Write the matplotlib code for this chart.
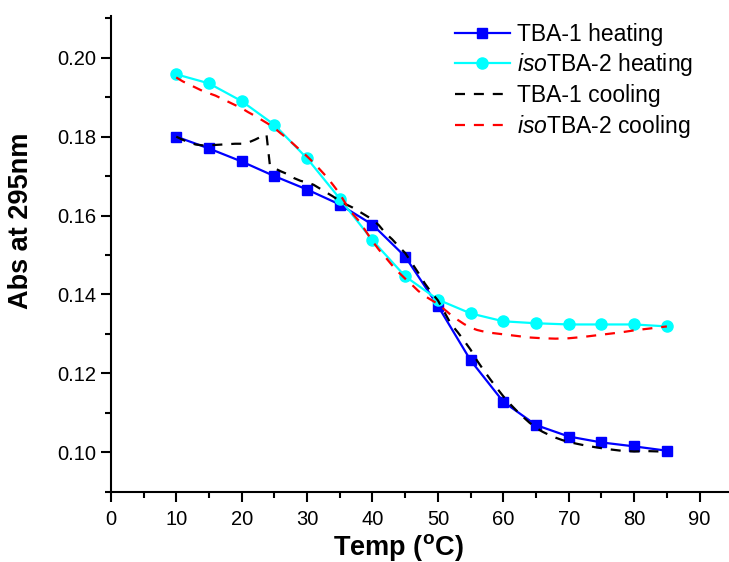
import numpy as np
import matplotlib
matplotlib.use("Agg")
import matplotlib.pyplot as plt

plt.rcParams['font.family'] = ['Liberation Sans', 'DejaVu Sans']
plt.rcParams['mathtext.fontset'] = 'custom'
plt.rcParams['mathtext.rm'] = 'Liberation Sans'
plt.rcParams['mathtext.it'] = 'Liberation Sans:italic'
plt.rcParams['mathtext.bf'] = 'Liberation Sans:bold'

# heating data (every 5 degC)
temp_heat = [10, 15, 20, 25, 30, 35, 40, 45, 50, 55, 60, 65, 70, 75, 80, 85]
tba1_heat = [0.1800, 0.1770, 0.1737, 0.1700, 0.1666, 0.1628, 0.1577, 0.1496,
             0.1371, 0.1233, 0.1128, 0.1069, 0.1040, 0.1025, 0.1015, 0.1004]
iso_heat = [0.1958, 0.1935, 0.1890, 0.1830, 0.1745, 0.1643, 0.1537, 0.1446,
            0.1387, 0.1352, 0.1332, 0.1327, 0.1324, 0.1324, 0.1324, 0.1319]

# cooling data (denser sampling)
temp_cool1 = [10, 11, 12, 13, 14, 15, 16, 17, 18, 19, 20, 21, 22, 23, 23.8, 24.3,
              25, 26, 27, 28, 29, 30, 31, 32, 33, 34, 35, 36, 37, 38, 39, 40,
              41, 42, 43, 44, 45, 46, 47, 48, 49, 50, 51, 52, 53, 54, 55, 56,
              57, 58, 59, 60, 61, 62, 63, 64, 65, 66, 67, 68, 69, 70, 72, 74,
              76, 78, 80, 82, 84, 85]
tba1_cool = [0.1800, 0.1792, 0.1785, 0.1780, 0.1778, 0.1778, 0.1779, 0.1780,
             0.1781, 0.1782, 0.1782, 0.1785, 0.1792, 0.1800, 0.1805, 0.1730,
             0.1720, 0.1712, 0.1705, 0.1695, 0.1688, 0.1684, 0.1678, 0.1668,
             0.1658, 0.1648, 0.1637, 0.1628, 0.1620, 0.1610, 0.1600, 0.1590,
             0.1575, 0.1555, 0.1540, 0.1522, 0.1505, 0.1480, 0.1455, 0.1428,
             0.1405, 0.1385, 0.1355, 0.1325, 0.1305, 0.1283, 0.1260, 0.1232,
             0.1208, 0.1185, 0.1163, 0.1142, 0.1123, 0.1106, 0.1090, 0.1075,
             0.1062, 0.1052, 0.1044, 0.1037, 0.1031, 0.1026, 0.1019, 0.1013,
             0.1008, 0.1004, 0.1002, 0.1003, 0.1002, 0.1003]

temp_cool2 = [10, 11, 12, 13, 14, 15, 16, 17, 18, 19, 20, 21, 22, 23, 24, 25,
              26, 27, 28, 29, 30, 31, 32, 33, 34, 35, 36, 37, 38, 39, 40, 41,
              42, 43, 44, 45, 46, 47, 48, 49, 50, 51, 52, 53, 54, 55, 56, 57,
              58, 59, 60, 62, 64, 66, 68, 70, 72, 74, 76, 78, 80, 82, 84, 85]
iso_cool = [0.1950, 0.1940, 0.1932, 0.1924, 0.1916, 0.1910, 0.1904, 0.1896,
            0.1888, 0.1880, 0.1872, 0.1862, 0.1853, 0.1843, 0.1833, 0.1822,
            0.1808, 0.1795, 0.1780, 0.1765, 0.1750, 0.1734, 0.1716, 0.1698,
            0.1677, 0.1655, 0.1627, 0.1604, 0.1585, 0.1560, 0.1535, 0.1513,
            0.1494, 0.1474, 0.1456, 0.1440, 0.1425, 0.1409, 0.1396, 0.1386,
            0.1376, 0.1362, 0.1348, 0.1336, 0.1325, 0.1316, 0.1310, 0.1306,
            0.1303, 0.1301, 0.1299, 0.1295, 0.1291, 0.1289, 0.1288, 0.1289,
            0.1292, 0.1296, 0.1300, 0.1304, 0.1309, 0.1313, 0.1317, 0.1319]

fig = plt.figure(figsize=(7.29, 5.62), dpi=100)
ax = fig.add_axes([0.152, 0.125, 0.848, 0.846])

ax.plot(temp_heat, tba1_heat, color='#0000ff', lw=1.6, marker='s', ms=7.5,
        label='TBA-1 heating', zorder=3)
ax.plot(temp_heat, iso_heat, color='#00ffff', lw=1.6, marker='o', ms=8,
        label=r'$\it{iso}$TBA-2 heating', zorder=3)
ax.plot(temp_cool1, tba1_cool, color='black', lw=1.6, ls=(0, (4.5, 4)),
        label='TBA-1 cooling', zorder=4)
ax.plot(temp_cool2, iso_cool, color='#ff0000', lw=1.6, ls=(0, (4.5, 4)),
        label=r'$\it{iso}$TBA-2 cooling', zorder=4)

ax.set_xlim(0, 94.5)
ax.set_ylim(0.09, 0.2105)
ax.set_xticks(np.arange(0, 91, 10))
ax.set_xticks(np.arange(5, 95, 10), minor=True)
ax.set_yticks([0.10, 0.12, 0.14, 0.16, 0.18, 0.20])
ax.set_yticks([0.09, 0.11, 0.13, 0.15, 0.17, 0.19, 0.21], minor=True)
ax.yaxis.set_major_formatter(matplotlib.ticker.FormatStrFormatter('%.2f'))

for s in ['top', 'right']:
    ax.spines[s].set_visible(False)
for s in ['left', 'bottom']:
    ax.spines[s].set_linewidth(1.5)
ax.tick_params(which='major', length=7, width=1.5, labelsize=14.5, direction='out')
ax.tick_params(axis='x', which='major', pad=6)
ax.tick_params(which='minor', length=4, width=1.5, direction='out')

ax.set_xlabel(r'Temp ($\mathbf{^o}$C)', fontsize=19.5, fontweight='bold')
ax.set_ylabel('Abs at 295nm', fontsize=19.5, fontweight='bold')
ax.xaxis.set_label_coords(0.465, -0.084)
ax.yaxis.set_label_coords(-0.125, 0.57)

ax.legend(loc='upper right', bbox_to_anchor=(0.975, 1.03), frameon=False,
          fontsize=16.5, handlelength=2.4, handletextpad=0.3, labelspacing=0.25)

fig.savefig('out.png', dpi=100)
